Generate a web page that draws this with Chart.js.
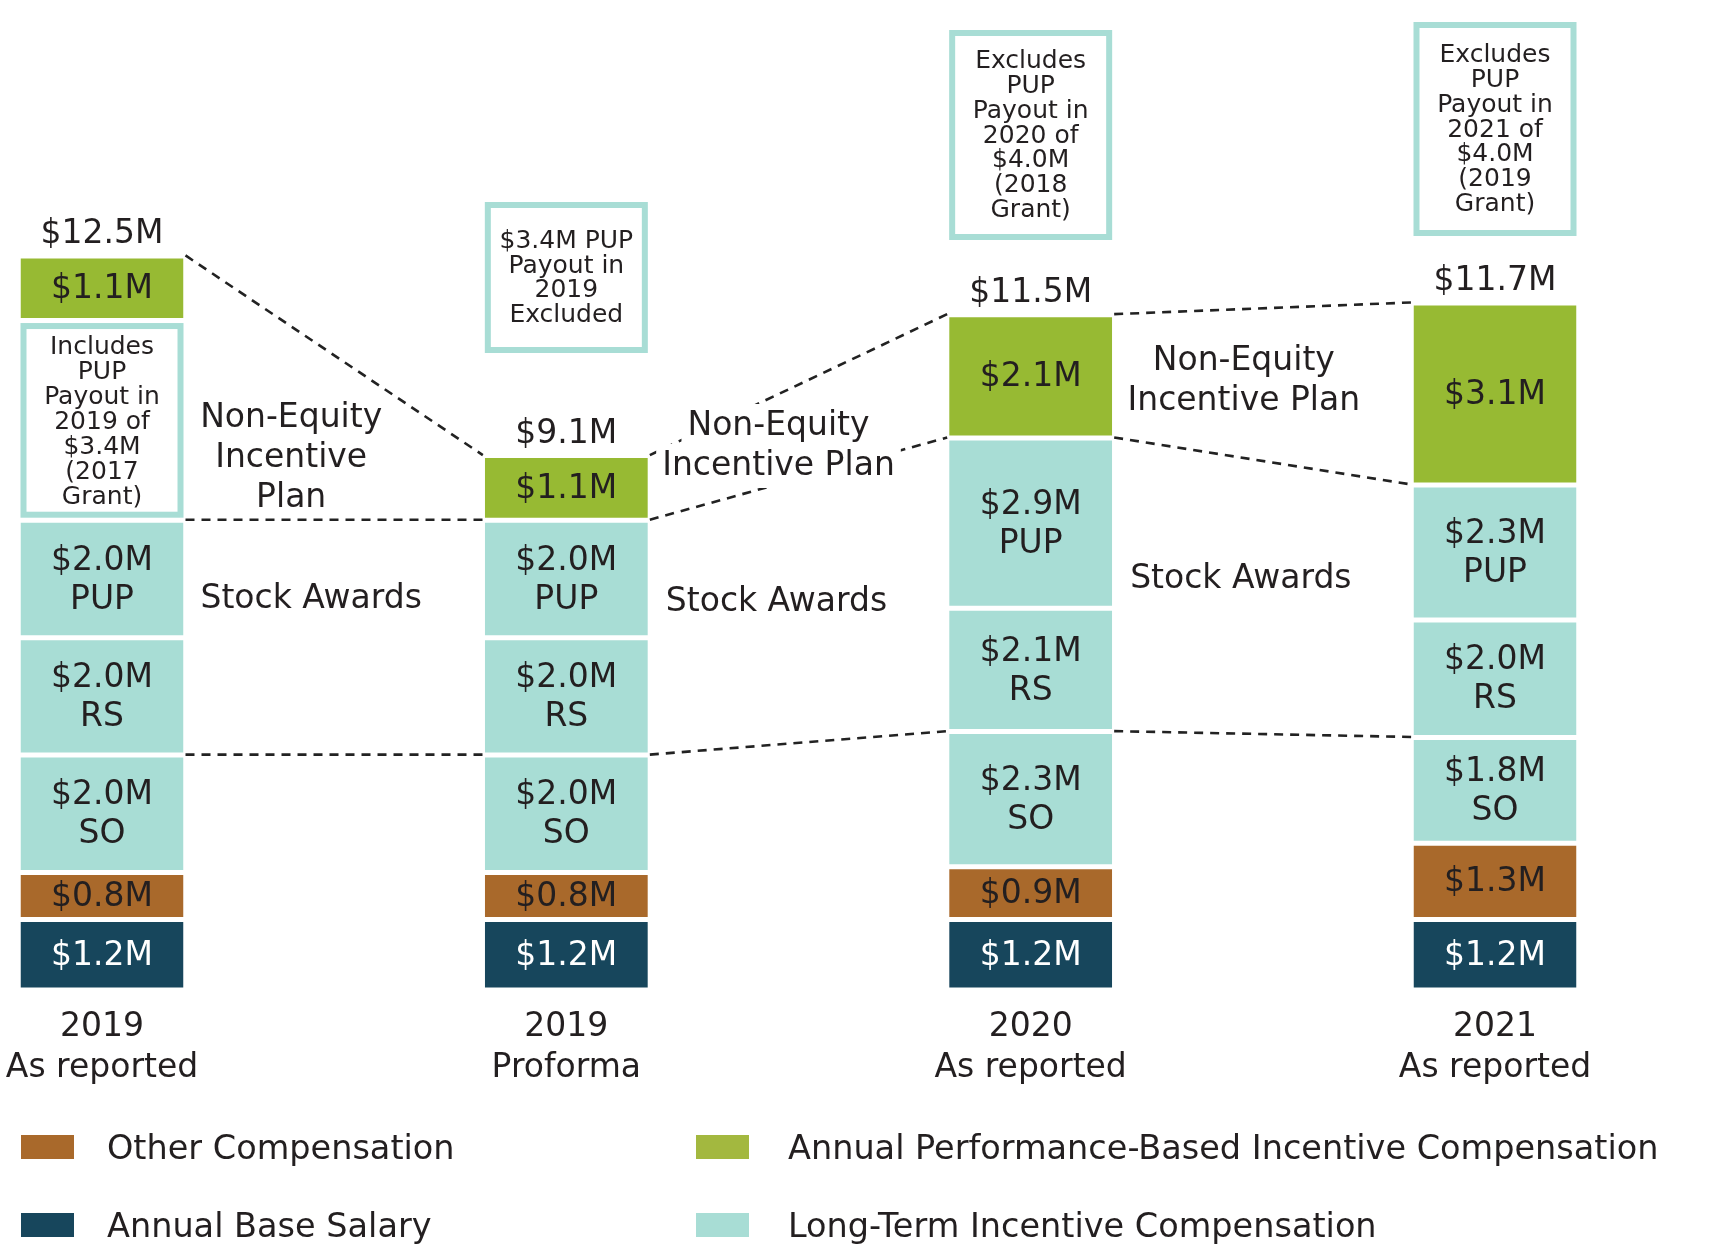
<!DOCTYPE html>
<html>
<head>
<meta charset="utf-8">
<script src="https://cdn.jsdelivr.net/npm/chart.js@4.4.1/dist/chart.umd.min.js"></script>
<style>
  html, body { margin: 0; padding: 0; background: #fff; }
  #wrap { position: relative; width: 1728px; height: 1251px; overflow: hidden; }
  #chart-box { position: absolute; left: 0; top: 0; width: 1728px; height: 1117px; }
  #legend { position: absolute; left: 0; top: 0; width: 1728px; height: 1251px; font-family: 'DejaVu Sans', sans-serif; font-size: 33.5px; color: #231f20; }
  .swatch { position: absolute; width: 53px; height: 24px; }
  .label { position: absolute; white-space: nowrap; line-height: 40px; }
</style>
</head>
<body>
<div id="wrap">
  <div id="chart-box"><canvas id="comp-chart"></canvas></div>
  <div id="legend"></div>
</div>
<script>
  // categories and values ($M)
  var categories = [['2019', 'As reported'], ['2019', 'Proforma'], ['2020', 'As reported'], ['2021', 'As reported']];
  var baseSalary = [1.2, 1.2, 1.2, 1.2];
  var otherComp = [0.8, 0.8, 0.9, 1.3];
  var stockOptions = [2.0, 2.0, 2.3, 1.8];
  var restrictedStock = [2.0, 2.0, 2.1, 2.0];
  var pupAwards = [2.0, 2.0, 2.9, 2.3];
  var pupPayoutIncluded = [3.4, null, null, null];
  var annualIncentive = [1.1, 1.1, 2.1, 3.1];
  var totals = [12.5, 9.1, 11.5, 11.7];

  var includedNote = ['Includes', 'PUP', 'Payout in', '2019 of', '$3.4M', '(2017', 'Grant)'];
  var excludedNotes = [
      null,
      ['$3.4M PUP', 'Payout in', '2019', 'Excluded'],
      ['Excludes', 'PUP', 'Payout in', '2020 of', '$4.0M', '(2018', 'Grant)'],
      ['Excludes', 'PUP', 'Payout in', '2021 of', '$4.0M', '(2019', 'Grant)']
  ];

  var legendLabels = ['Other Compensation', 'Annual Performance-Based Incentive Compensation', 'Annual Base Salary', 'Long-Term Incentive Compensation'];

  var NAVY = '#17465c', BROWN = '#a9692b', TEAL = '#a8ddd5', GREEN = '#97ba33', TEXT = '#231f20';
  var legendColors = [BROWN, '#a3b83f', NAVY, TEAL];
  var FONT = "'DejaVu Sans', sans-serif";

  // layout (pixels) for annotations that are not data marks
  var noteBoxTop = [null, 202, 30, 22];
  var noteBoxBottom = [null, 353, 240, 236];
  var betweenLabels = [
      {gap: 0, dx: -43, lines: ['Non-Equity', 'Incentive', 'Plan'], cy: 458, bg: false},
      {gap: 0, dx: -23, lines: ['Stock Awards'], cy: 599, bg: false},
      {gap: 1, dx: -20, lines: ['Non-Equity', 'Incentive Plan'], cy: 446, bg: true},
      {gap: 1, dx: -22, lines: ['Stock Awards'], cy: 602, bg: false},
      {gap: 2, dx: -19, lines: ['Non-Equity', 'Incentive Plan'], cy: 381, bg: false},
      {gap: 2, dx: -22, lines: ['Stock Awards'], cy: 579, bg: false}
  ];

  function segment(label, data, color, tag) {
      return {
          label: label,
          data: data,
          backgroundColor: color,
          borderColor: '#ffffff',
          borderWidth: {top: 3, bottom: 2, left: 0, right: 0},
          borderSkipped: false,
          inflateAmount: 0,
          barThickness: 163,
          stack: 'pay',
          clip: false,
          tag: tag
      };
  }

  var datasets = [
      segment('Annual Base Salary', baseSalary, NAVY, ''),
      segment('Other Compensation', otherComp, BROWN, ''),
      segment('SO', stockOptions, TEAL, 'SO'),
      segment('RS', restrictedStock, TEAL, 'RS'),
      segment('PUP', pupAwards, TEAL, 'PUP'),
      segment('PUP payout', pupPayoutIncluded, '#ffffff', 'BOX'),
      segment('Annual Performance-Based Incentive Compensation', annualIncentive, GREEN, '')
  ];
  var SO_IDX = 2, PUP_IDX = 4, BOX_IDX = 5, TOP_IDX = 6;

  function rectOf(chart, d, i) {
      var el = chart.getDatasetMeta(d).data[i];
      var p = el.getProps(['x', 'y', 'base', 'width'], true);
      return {x: p.x, left: p.x - p.width / 2, right: p.x + p.width / 2, top: Math.min(p.y, p.base), bottom: Math.max(p.y, p.base)};
  }

  function lines(ctx, arr, cx, cy, lh) {
      var start = cy - (arr.length - 1) * lh / 2;
      for (var k = 0; k < arr.length; k++) {
          ctx.fillText(arr[k], cx, start + k * lh);
      }
  }

  function boundary(i, d) {
      var s = 0;
      for (var k = 0; k <= d; k++) s += datasets[k].data[i] || 0;
      return s;
  }

  var annotate = {
      id: 'annotate',
      afterDatasetsDraw: function(chart) {
          var ctx = chart.ctx;
          var yScale = chart.scales.y;
          ctx.save();

          // dashed connectors between neighbouring bars
          ctx.strokeStyle = '#222222';
          ctx.lineWidth = 2.6;
          ctx.setLineDash([9, 7]);
          [SO_IDX, PUP_IDX, TOP_IDX].forEach(function(d) {
              for (var i = 0; i < categories.length - 1; i++) {
                  var a = rectOf(chart, TOP_IDX, i), b = rectOf(chart, TOP_IDX, i + 1);
                  ctx.beginPath();
                  ctx.moveTo(a.right + 2, yScale.getPixelForValue(boundary(i, d)));
                  ctx.lineTo(b.left - 2, yScale.getPixelForValue(boundary(i + 1, d)));
                  ctx.stroke();
              }
          });
          ctx.setLineDash([]);

          // labels between bars
          ctx.font = '33px ' + FONT;
          ctx.textAlign = 'center';
          ctx.textBaseline = 'middle';
          betweenLabels.forEach(function(lab) {
              var a = rectOf(chart, TOP_IDX, lab.gap), b = rectOf(chart, TOP_IDX, lab.gap + 1);
              var cx = (a.right + b.left) / 2 + lab.dx;
              var lh = 40;
              var start = lab.cy - (lab.lines.length - 1) * lh / 2;
              if (lab.bg) {
                  ctx.fillStyle = '#ffffff';
                  lab.lines.forEach(function(t, k) {
                      var w = ctx.measureText(t).width;
                      ctx.fillRect(cx - w / 2 - 6, start + k * lh - 22, w + 12, 44);
                  });
              }
              ctx.fillStyle = TEXT;
              lines(ctx, lab.lines, cx, lab.cy, lh);
          });

          // value labels in the segments
          for (var d = 0; d < datasets.length; d++) {
              if (d === BOX_IDX) continue;
              for (var i = 0; i < categories.length; i++) {
                  var v = datasets[d].data[i];
                  if (v == null) continue;
                  var r = rectOf(chart, d, i);
                  var txt = ['$' + v.toFixed(1) + 'M'];
                  if (datasets[d].tag) txt.push(datasets[d].tag);
                  ctx.fillStyle = d === 0 ? '#ffffff' : TEXT;
                  lines(ctx, txt, r.x, (r.top + r.bottom) / 2 + 2, 39);
              }
          }

          // totals above the stacks
          for (var i = 0; i < categories.length; i++) {
              var r = rectOf(chart, TOP_IDX, i);
              ctx.fillStyle = TEXT;
              ctx.fillText('$' + totals[i].toFixed(1) + 'M', r.x, r.top - 21);
          }

          // PUP payout included in the stack (2019 as reported)
          ctx.font = '25px ' + FONT;
          for (var i = 0; i < categories.length; i++) {
              if (pupPayoutIncluded[i] == null) continue;
              var r = rectOf(chart, BOX_IDX, i);
              var t = r.top + 3, bt = r.bottom - 2;
              ctx.strokeStyle = TEAL;
              ctx.lineWidth = 6;
              ctx.strokeRect(r.left + 3, t + 3, r.right - r.left - 6, bt - t - 6);
              ctx.fillStyle = TEXT;
              lines(ctx, includedNote, r.x, (t + bt) / 2 + 2, 25);
          }

          // notes on excluded payouts above the bars
          for (var i = 0; i < categories.length; i++) {
              if (!excludedNotes[i]) continue;
              var r = rectOf(chart, TOP_IDX, i);
              var top = noteBoxTop[i], bottom = noteBoxBottom[i];
              ctx.fillStyle = '#ffffff';
              ctx.fillRect(r.left, top, r.right - r.left, bottom - top);
              ctx.strokeStyle = TEAL;
              ctx.lineWidth = 6;
              ctx.strokeRect(r.left + 3, top + 3, r.right - r.left - 6, bottom - top - 6);
              ctx.fillStyle = TEXT;
              lines(ctx, excludedNotes[i], r.x, (top + bottom) / 2 + 1, 24.7);
          }
          ctx.restore();
      }
  };

  var chartConfig = {
      type: 'bar',
      data: {
          labels: categories,
          datasets: datasets
      },
      options: {
          responsive: true,
          maintainAspectRatio: false,
          animation: false,
          layout: {
              padding: {left: 102, right: 233, top: 0, bottom: 11}
          },
          plugins: {
              legend: {display: false},
              tooltip: {enabled: false}
          },
          scales: {
              x: {
                  stacked: true,
                  offset: false,
                  grid: {display: false, drawTicks: false},
                  border: {display: false},
                  ticks: {
                      color: TEXT,
                      padding: 17,
                      maxRotation: 0,
                      autoSkip: false,
                      font: {family: FONT, size: 33, lineHeight: 1.25}
                  },
                  // the end labels may hang past the plot edges, keep bar positions fixed
                  afterFit: function(scale) {
                      scale.paddingLeft = 0;
                      scale.paddingRight = 0;
                  }
              },
              y: {
                  stacked: true,
                  display: false,
                  min: 0,
                  max: 16.85
              }
          }
      },
      plugins: [annotate]
  };

  // legend in two columns under the chart
  var legendSwatchLeft = [21, 696], legendTextLeft = [107, 788], legendRowY = [1148, 1226];
  var legendBox = document.getElementById('legend');
  for (var i = 0; i < legendLabels.length; i++) {
      var col = i % 2, row = Math.floor(i / 2);
      var sw = document.createElement('div');
      sw.className = 'swatch';
      sw.style.left = legendSwatchLeft[col] + 'px';
      sw.style.top = (legendRowY[row] - 13) + 'px';
      sw.style.background = legendColors[i];
      legendBox.appendChild(sw);
      var tx = document.createElement('div');
      tx.className = 'label';
      tx.style.left = legendTextLeft[col] + 'px';
      tx.style.top = (legendRowY[row] - 20) + 'px';
      tx.textContent = legendLabels[i];
      legendBox.appendChild(tx);
  }

  window.onload = function() {
      var ctx = document.getElementById('comp-chart').getContext('2d');
      window.compChart = new Chart(ctx, chartConfig);
  };
</script>
</body>
</html>
